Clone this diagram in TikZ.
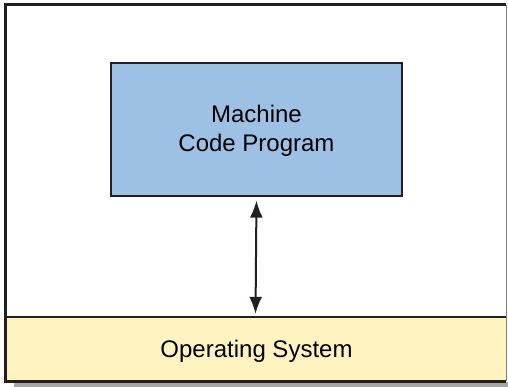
\documentclass[tikz,border=0pt]{standalone}
\usepackage{fontspec}
\setmainfont{Liberation Sans}
\usetikzlibrary{arrows.meta}
\definecolor{codeblue}{RGB}{157,193,228}
\definecolor{osyellow}{RGB}{255,244,192}
\definecolor{framegray}{RGB}{35,31,32}
\tikzset{
  boxtext/.style={font=\fontsize{24}{29}\selectfont, align=center, inner sep=0pt},
  bothtips/.style={arrows={Latex[length=17pt,width=13pt]-Latex[length=17pt,width=13pt]}},
}
\begin{document}
\begin{tikzpicture}[x=1pt, y=-1pt]
          \useasboundingbox (0, 0) rectangle (508, 387);
          \fill[gray!70] (14, 382) rectangle (508, 387);
          \fill[white] (5, 5) rectangle (506, 381);
          %
          \node[draw=framegray, line width=2.2pt, fill=codeblue, minimum width=291pt, minimum height=133pt, inner sep=0pt] (mcp) at (256.5, 129.5) {};
          \node[boxtext] (mcptext) at (256.5, 131) {Machine\\Code Program};
          \node[fill=osyellow, minimum width=501pt, minimum height=64pt, inner sep=0pt] (os) at (255.5, 349) {};
          \node[boxtext] (ostext) at (256.5, 351) {Operating System};
          %
          \draw[framegray, line width=2.2pt] (os.north west) -- (os.north east);
          \draw[framegray, line width=3pt] (506, 5) -- (5, 5) -- (5, 381) -- (506, 381);
          \draw[gray, line width=1.2pt] (506.5, 5) -- (506.5, 381);
          \draw[framegray, line width=2pt, bothtips, shorten <=3.5pt, shorten >=3pt] (mcp.south) -- (os.north);
        \end{tikzpicture}
\end{document}
